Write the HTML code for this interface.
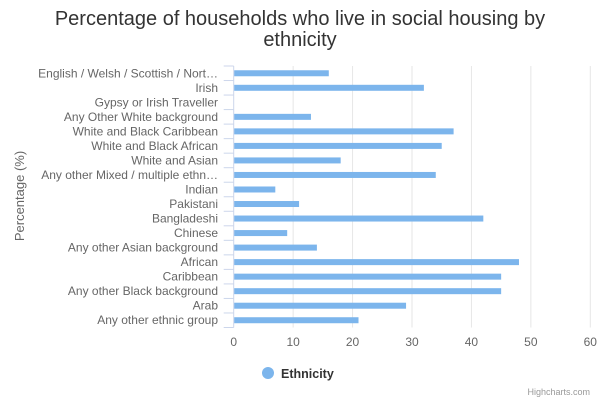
<!DOCTYPE html>
<html><head><meta charset="utf-8"><style>
body{margin:0;background:#fff;font-family:"Liberation Sans",sans-serif}
svg text{font-family:"Liberation Sans",sans-serif}
</style></head><body>
<svg id="chart" width="600" height="400" xmlns="http://www.w3.org/2000/svg">
<rect width="600" height="400" fill="#fff"/>
<text x="300" y="25" text-anchor="middle" font-size="20" fill="#333"><tspan x="300">Percentage of households who live in social housing by</tspan><tspan x="300" dy="21">ethnicity</tspan></text>
<text transform="translate(24,196) rotate(-90)" text-anchor="middle" font-size="13" fill="#666">Percentage (%)</text>
<g id="grid"></g><g id="bars"></g><g id="labels"></g>
<circle cx="268" cy="373" r="6" fill="#7cb5ec"/>
<text x="281" y="378" font-size="12.5" font-weight="bold" fill="#333">Ethnicity</text>
<text x="590" y="395" text-anchor="end" font-size="9" fill="#999">Highcharts.com</text>
</svg>
<script>
const categories=["English / Welsh / Scottish / Nort…","Irish","Gypsy or Irish Traveller","Any Other White background","White and Black Caribbean","White and Black African","White and Asian","Any other Mixed / multiple ethn…","Indian","Pakistani","Bangladeshi","Chinese","Any other Asian background","African","Caribbean","Any other Black background","Arab","Any other ethnic group"];
const values=[16,32,0,13,37,35,18,34,7,11,42,9,14,48,45,45,29,21];
const ticks=[0,10,20,30,40,50,60];
(function(){
const NS="http://www.w3.org/2000/svg";
const x0=233.7,x1=590.3,xmax=60,yTop=66,yBottom=327.5;
const xs=v=>x0+v/xmax*(x1-x0);
const band=(yBottom-yTop)/categories.length;
function mk(t,a,p){const e=document.createElementNS(NS,t);for(const k in a)e.setAttribute(k,a[k]);p.appendChild(e);return e;}
const grid=document.getElementById('grid'),bars=document.getElementById('bars'),labels=document.getElementById('labels');
ticks.forEach(t=>{
 if(t>0){const l=mk('line',{x1:xs(t),x2:xs(t),y1:yTop,y2:yBottom,stroke:'#e6e6e6','stroke-width':1},grid);
 
 }
 const tx=mk('text',{x:xs(t),y:346,'text-anchor':'middle','font-size':12,fill:'#666'},labels);
 tx.textContent=t;
 
 
});
const ax=mk('line',{x1:x0,x2:x0,y1:yTop,y2:yBottom,stroke:'#ccd6eb','stroke-width':1},grid);


for(let i=0;i<=categories.length;i++){
 const y=yTop+i*band;
 const tk=mk('line',{x1:x0-10,x2:x0,y1:y,y2:y,stroke:'#ccd6eb','stroke-width':1},grid);
 
 
}
categories.forEach((c,i)=>{
 const cy=yTop+(i+0.5)*band;
 if(values[i]>0){const r=mk('rect',{x:x0+0.5,y:cy-3,width:xs(values[i])-x0-0.5,height:6,fill:'#7cb5ec'},bars);
 
 }
 const t=mk('text',{x:218,y:cy+4,'text-anchor':'end','font-size':12,fill:'#666'},labels);
 t.textContent=c;
 
 
});
})();
</script>
</body></html>
